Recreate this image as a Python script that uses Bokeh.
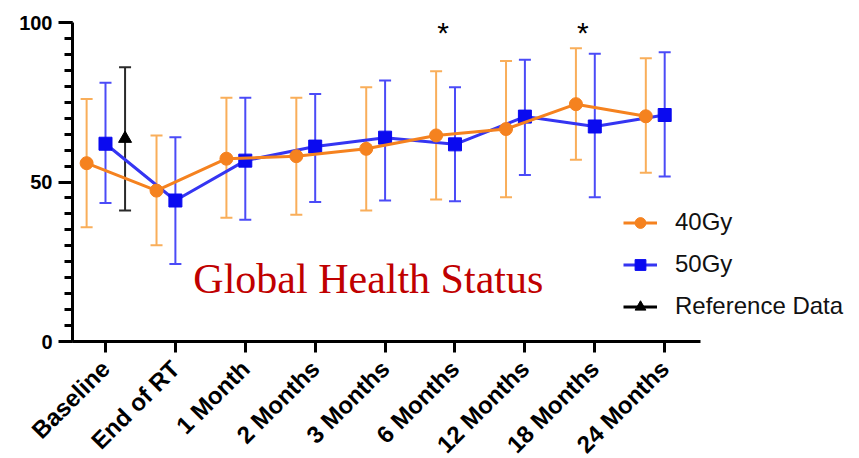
import math
from bokeh.plotting import figure
from bokeh.models import (ColumnDataSource, Range1d, FixedTicker, Whisker, TeeHead,
                          Legend, LegendItem, Label)
from bokeh.embed import file_html
from bokeh.resources import INLINE

# ---------------- data ----------------
categories = ["Baseline", "End of RT", "1 Month", "2 Months", "3 Months",
              "6 Months", "12 Months", "18 Months", "24 Months"]

gy40_mean  = [55.9, 47.3, 57.3, 58.1, 60.4, 64.6, 66.6, 74.4, 70.6]
gy40_upper = [76.0, 64.6, 76.4, 76.4, 79.7, 84.7, 87.9, 91.9, 88.8]
gy40_lower = [35.8, 30.2, 38.8, 39.7, 41.1, 44.5, 45.2, 57.0, 52.9]

gy50_mean  = [62.0, 44.2, 56.7, 61.1, 63.9, 61.8, 70.5, 67.4, 71.0]
gy50_upper = [81.1, 64.0, 76.4, 77.6, 81.8, 79.7, 88.3, 90.2, 90.7]
gy50_lower = [43.4, 24.3, 38.2, 43.7, 44.2, 44.0, 52.2, 45.2, 51.7]

ref_categories = ["Baseline"]
ref_mean  = [63.6]
ref_upper = [86.0]
ref_lower = [41.1]

significant = ["6 Months", "18 Months"]

y_ticks = [0, 50, 100]

# ---------------- styling ----------------
ORANGE = "#F5821F"
ORANGE_BAR = "#F9AE5A"
BLUE = "#0A0AF0"
BLUE_BAR = "#4B4BF7"
BLUE_LINE = "#3535F2"
BLACK = "#000000"

idx = {c: i for i, c in enumerate(categories)}
OFF40, OFF50, OFFREF = -0.27, 0.0, 0.28

src40 = ColumnDataSource(dict(x=[i + OFF40 for i in range(len(categories))],
                              y=gy40_mean, upper=gy40_upper, lower=gy40_lower))
src50 = ColumnDataSource(dict(x=[i + OFF50 for i in range(len(categories))],
                              y=gy50_mean, upper=gy50_upper, lower=gy50_lower))
srcref = ColumnDataSource(dict(x=[idx[c] + OFFREF for c in ref_categories],
                               y=ref_mean, upper=ref_upper, lower=ref_lower))

X_LEFT = -0.472
X_AXIS_END = 8.515
PX_PER_UNIT = 69.9
FRAME_W = 783

p = figure(frame_width=FRAME_W, frame_height=319,
           min_border_left=72, min_border_right=0,
           min_border_top=22, min_border_bottom=115,
           x_range=Range1d(X_LEFT, X_LEFT + FRAME_W / PX_PER_UNIT),
           y_range=Range1d(0, 100),
           output_backend="svg", toolbar_location=None)
p.outline_line_color = None
p.xgrid.visible = False
p.ygrid.visible = False
p.background_fill_color = "white"
p.border_fill_color = "white"

# error bars
for src, col in [(src50, BLUE_BAR), (src40, ORANGE_BAR), (srcref, "#2a2a2a")]:
    w = Whisker(base="x", upper="upper", lower="lower", source=src, dimension="height",
                line_color=col, line_width=2,
                upper_head=TeeHead(size=12, line_color=col, line_width=2),
                lower_head=TeeHead(size=12, line_color=col, line_width=2))
    p.add_layout(w)

# lines + markers
l50 = p.line("x", "y", source=src50, line_color=BLUE_LINE, line_width=3)
m50 = p.scatter("x", "y", source=src50, marker="square", size=13,
                fill_color=BLUE, line_color=BLUE)
l40 = p.line("x", "y", source=src40, line_color=ORANGE, line_width=3)
m40 = p.scatter("x", "y", source=src40, marker="circle", size=13,
                fill_color=ORANGE, line_color=ORANGE)
lref = p.line("x", "y", source=srcref, line_color=BLACK, line_width=3)
mref = p.scatter("x", "y", source=srcref, marker="triangle", size=13,
                 fill_color=BLACK, line_color=BLACK)

# axes
yax = p.yaxis[0]
yax.ticker = FixedTicker(ticks=y_ticks, minor_ticks=list(range(0, 101, 5)))
yax.axis_line_width = 3
yax.major_tick_line_width = 3
yax.minor_tick_line_width = 3
yax.major_tick_out = 14
yax.major_tick_in = 0
yax.minor_tick_out = 8
yax.minor_tick_in = 0
yax.major_label_text_font = "Liberation Sans"
yax.major_label_text_font_style = "bold"
yax.major_label_text_font_size = "20px"
yax.major_label_text_color = "black"
yax.major_label_standoff = 6

xax = p.xaxis[0]
xax.bounds = (X_LEFT, X_AXIS_END)
xax.ticker = FixedTicker(ticks=list(range(len(categories))))
xax.major_label_overrides = {i: c for i, c in enumerate(categories)}
xax.axis_line_width = 3
xax.major_tick_line_width = 3
xax.major_tick_out = 11
xax.major_tick_in = 0
xax.minor_tick_line_color = None
xax.major_label_orientation = math.pi / 4
xax.major_label_text_font = "Liberation Sans"
xax.major_label_text_font_style = "bold"
xax.major_label_text_font_size = "24px"
xax.major_label_text_color = "black"
xax.major_label_standoff = 12

# significance stars
for c in significant:
    p.add_layout(Label(x=idx[c] - 0.17, y=97.0, text="*", text_align="center",
                       text_baseline="alphabetic", text_font="Liberation Sans",
                       text_font_size="30px", text_color="black"))

# title text inside the plot
p.add_layout(Label(x=3.76, y=19.7, text="Global Health Status", text_align="center",
                   text_baseline="alphabetic", text_font="Liberation Serif",
                   text_font_size="42px", text_color="#C00000"))

legend = Legend(items=[LegendItem(label="40Gy", renderers=[l40, m40]),
                       LegendItem(label="50Gy", renderers=[l50, m50]),
                       LegendItem(label="Reference Data", renderers=[lref, mref])],
                location=(551, 21))
legend.glyph_width = 34
legend.glyph_height = 27
legend.label_height = 27
legend.label_standoff = 18
legend.spacing = 14
legend.padding = 0
legend.margin = 0
legend.border_line_color = None
legend.background_fill_alpha = 0
legend.label_text_font = "Liberation Sans"
legend.label_text_font_size = "24px"
legend.label_text_color = "#111111"
p.add_layout(legend)

open("out.html", "w").write(file_html(p, INLINE))
